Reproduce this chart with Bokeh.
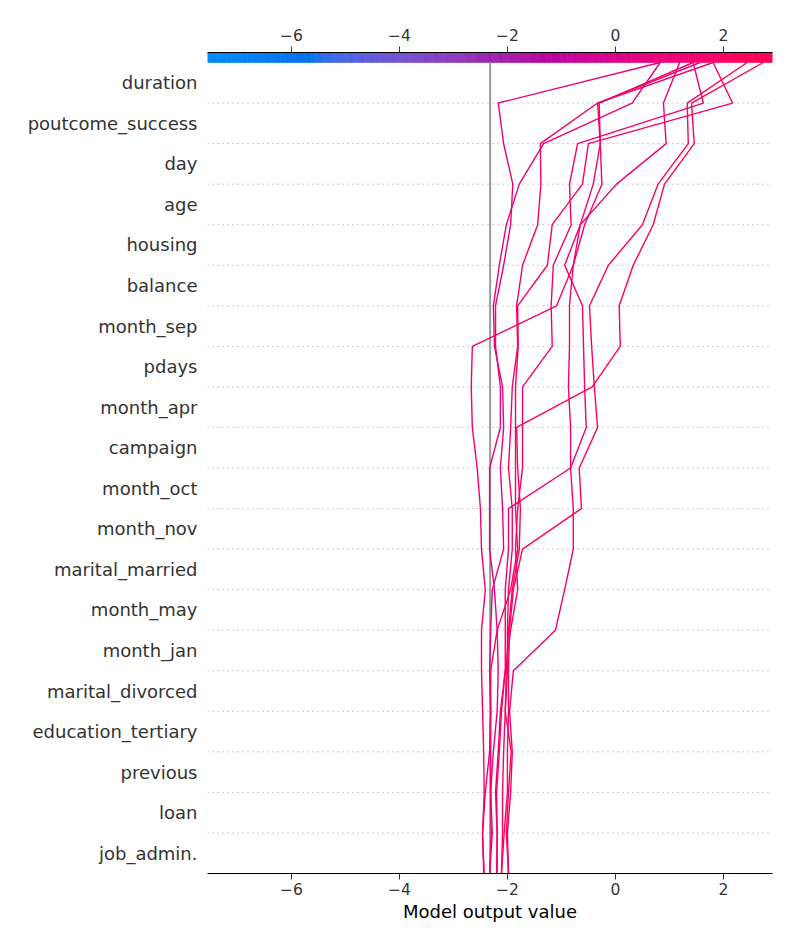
import math
from bokeh.plotting import figure
from bokeh.models import LinearAxis, FixedTicker, Range1d
from bokeh.embed import file_html
from bokeh.resources import INLINE

# ---------------- data ----------------
# features, top to bottom
features = ["duration", "poutcome_success", "day", "age", "housing", "balance",
            "month_sep", "pdays", "month_apr", "campaign", "month_oct", "month_nov",
            "marital_married", "month_may", "month_jan", "marital_divorced",
            "education_tertiary", "previous", "loan", "job_admin."]

base_value = -2.32
x_lo, x_hi = -7.555, 2.91
x_ticks = [-6, -4, -2, 0, 2]

# cumulative model output per observation, from the bottom (index 0) to the top (index 20)
obs_1 = [-2.33, -2.30, -2.31, -2.26, -2.19, -2.17, -2.19, -2.24, -2.33, -2.33, -2.33,
         -2.13, -2.13, -2.22, -2.22, -2.07, -1.94, -1.90, -2.07, -2.17, 0.83]
obs_2 = [-2.44, -2.46, -2.41, -2.33, -2.31, -2.33, -2.31, -2.28, -2.07, -2.09, -2.13,
         -2.07, -2.09, -2.24, -2.26, -2.15, -2.02, -1.78, -1.33, 0.31, 0.83]
obs_3 = [-2.11, -2.09, -2.09, -2.07, -2.04, -2.00, -2.00, -1.98, -1.91, -1.91, -1.98,
         -1.94, -1.91, -1.81, -1.83, -1.72, -1.44, -1.38, -1.39, -0.33, 1.81]
obs_4 = [-2.43, -2.46, -2.43, -2.44, -2.46, -2.48, -2.48, -2.41, -2.48, -2.50, -2.56,
         -2.65, -2.67, -2.65, -1.09, -0.78, -0.57, -0.25, -0.28, -0.33, 1.57]
obs_5 = [-1.98, -2.00, -1.94, -1.91, -1.96, -1.89, -1.11, -0.94, -0.78, -0.78, -0.83,
         -0.83, -0.87, -0.85, -0.85, -0.78, -0.65, -0.41, -0.28, -0.30, 1.44]
obs_6 = [-2.19, -2.19, -2.22, -2.17, -2.13, -2.04, -2.04, -2.04, -1.98, -1.98, -0.83,
         -0.54, -0.57, -0.59, -0.61, -0.94, -0.65, 0.02, 0.94, 0.89, 1.19]
obs_7 = [-2.11, -2.06, -2.00, -2.00, -1.98, -1.98, -1.96, -1.89, -1.72, -0.63, -0.67,
         -0.33, -0.39, -0.44, -0.48, -0.13, 0.50, 0.79, 1.35, 1.33, 2.44]
obs_8 = [-1.98, -2.02, -1.98, -1.93, -2.04, -2.02, -1.98, -1.91, -1.78, -1.76, -1.81,
         -1.83, -0.43, 0.09, 0.07, 0.33, 0.70, 0.91, 1.46, 1.41, 2.74]
obs_9 = [-2.20, -2.19, -2.20, -2.15, -2.11, -2.04, -1.94, -1.81, -1.85, -1.81, -1.72,
         -1.72, -1.72, -1.17, -1.19, -1.15, -0.82, -0.85, -0.70, 1.63, 1.44]
obs_10 = [-2.33, -2.28, -2.31, -2.31, -2.31, -2.31, -2.19, -1.94, -1.81, -1.85, -1.85,
          -1.85, -1.85, -1.80, -1.81, -1.26, -1.17, -0.61, -0.50, 2.17, 1.81]
observations = [obs_1, obs_2, obs_3, obs_4, obs_5, obs_6, obs_7, obs_8, obs_9, obs_10]

# ---------------- colour map (blue -> purple -> red in LCh) ----------------
def lch2rgb(L, C, h):
    a = C * math.cos(h)
    b = C * math.sin(h)
    fy = (L + 16.0) / 116.0
    fx = fy + a / 500.0
    fz = fy - b / 200.0
    def finv(t):
        return t ** 3 if t > 6.0 / 29.0 else 3 * (6.0 / 29.0) ** 2 * (t - 4.0 / 29.0)
    X = 0.95047 * finv(fx)
    Y = 1.00000 * finv(fy)
    Z = 1.08883 * finv(fz)
    r = 3.2406 * X - 1.5372 * Y - 0.4986 * Z
    g = -0.9689 * X + 1.8758 * Y + 0.0415 * Z
    bb = 0.0557 * X - 0.2040 * Y + 1.0570 * Z
    def gam(c):
        c = 1.055 * (c ** (1 / 2.4)) - 0.055 if c > 0.0031308 else 12.92 * c
        return int(round(min(max(c, 0.0), 1.0) * 255))
    return "#%02x%02x%02x" % (gam(r), gam(g), gam(bb))

blue_lch = (54.0, 70.0, 4.6588)
red_lch = (54.0, 90.0, 0.35470565 + 2 * math.pi)
l_mid = 40.0
N = 256
palette = []
for i in range(N):
    t = i / (N - 1)
    if t < 0.5:
        L = blue_lch[0] + (l_mid - blue_lch[0]) * (t / 0.5)
    else:
        L = l_mid + (red_lch[0] - l_mid) * ((t - 0.5) / 0.5)
    C = blue_lch[1] + (red_lch[1] - blue_lch[1]) * t
    H = blue_lch[2] + (red_lch[2] - blue_lch[2]) * t
    palette.append(lch2rgb(L, C, H))

def color_for(v):
    t = (v - x_lo) / (x_hi - x_lo)
    idx = int(round(min(max(t, 0.0), 1.0) * (N - 1)))
    return palette[idx]

# ---------------- figure ----------------
n_feat = len(features)
px_per_unit = 811.0 / n_feat
cb_h = 10.0 / px_per_unit
FONT = "DejaVu Sans"

p = figure(width=800, height=950, output_backend="svg", toolbar_location=None,
           x_range=Range1d(x_lo, x_hi), y_range=Range1d(0, n_feat + cb_h),
           min_border_left=207, min_border_right=28, min_border_top=52, min_border_bottom=77)
p.outline_line_color = None
p.xgrid.visible = False
p.ygrid.visible = False
p.background_fill_color = "white"
p.border_fill_color = "white"

# dotted horizontal grid lines at each feature boundary
gx = [[x_lo, x_hi] for _ in range(1, n_feat)]
gy = [[k, k] for k in range(1, n_feat)]
p.multi_line(gx, gy, line_color="#888888", line_width=1, line_dash="1 4", line_alpha=0.85)

# colour bar strip on top
edges = [x_lo + (x_hi - x_lo) * i / N for i in range(N + 1)]
p.quad(left=edges[:-1], right=edges[1:], bottom=n_feat, top=n_feat + cb_h,
       fill_color=palette, line_color=palette, line_width=0.6)

# base value line
p.line([base_value, base_value], [0, n_feat], line_color="#999999", line_width=2)

# observation lines
ypos = list(range(n_feat + 1))
for ob in observations:
    p.line(ob, ypos, line_color=color_for(ob[-1]), line_width=1.4)

minus = lambda v: ("\u2212%d" % abs(v)) if v < 0 else "%d" % v
labels_x = {v: minus(v) for v in x_ticks}

# bottom axis
xa = p.xaxis[0]
xa.ticker = FixedTicker(ticks=x_ticks)
xa.major_label_overrides = labels_x
xa.minor_tick_line_color = None
xa.major_tick_out = 6
xa.major_tick_in = 0
xa.axis_line_color = "black"
xa.major_tick_line_color = "#333333"
xa.major_label_text_font = FONT
xa.major_label_text_font_size = "15.5px"
xa.major_label_text_color = "#333333"
xa.major_label_standoff = 3
xa.axis_label = "Model output value"
xa.axis_label_text_font = FONT
xa.axis_label_text_font_size = "18px"
xa.axis_label_text_font_style = "normal"
xa.axis_label_text_color = "black"
xa.axis_label_standoff = 3

# top axis (colour bar scale)
ta = LinearAxis(ticker=FixedTicker(ticks=x_ticks))
ta.major_label_overrides = labels_x
ta.minor_tick_line_color = None
ta.major_tick_out = 6
ta.major_tick_in = 0
ta.axis_line_color = "black"
ta.major_tick_line_color = "#333333"
ta.major_label_text_font = FONT
ta.major_label_text_font_size = "15.5px"
ta.major_label_text_color = "#333333"
ta.major_label_standoff = 6
p.add_layout(ta, "above")

# left axis with feature names
ya = p.yaxis[0]
yt = [n_feat - 0.5 - i for i in range(n_feat)]
ya.ticker = FixedTicker(ticks=yt)
ya.major_label_overrides = {t: f for t, f in zip(yt, features)}
ya.axis_line_color = None
ya.major_tick_line_color = None
ya.minor_tick_line_color = None
ya.major_tick_out = 0
ya.major_tick_in = 0
ya.major_label_standoff = 10
ya.major_label_text_font = FONT
ya.major_label_text_font_size = "18px"
ya.major_label_text_color = "#333333"

open("out.html", "w").write(file_html(p, INLINE))
